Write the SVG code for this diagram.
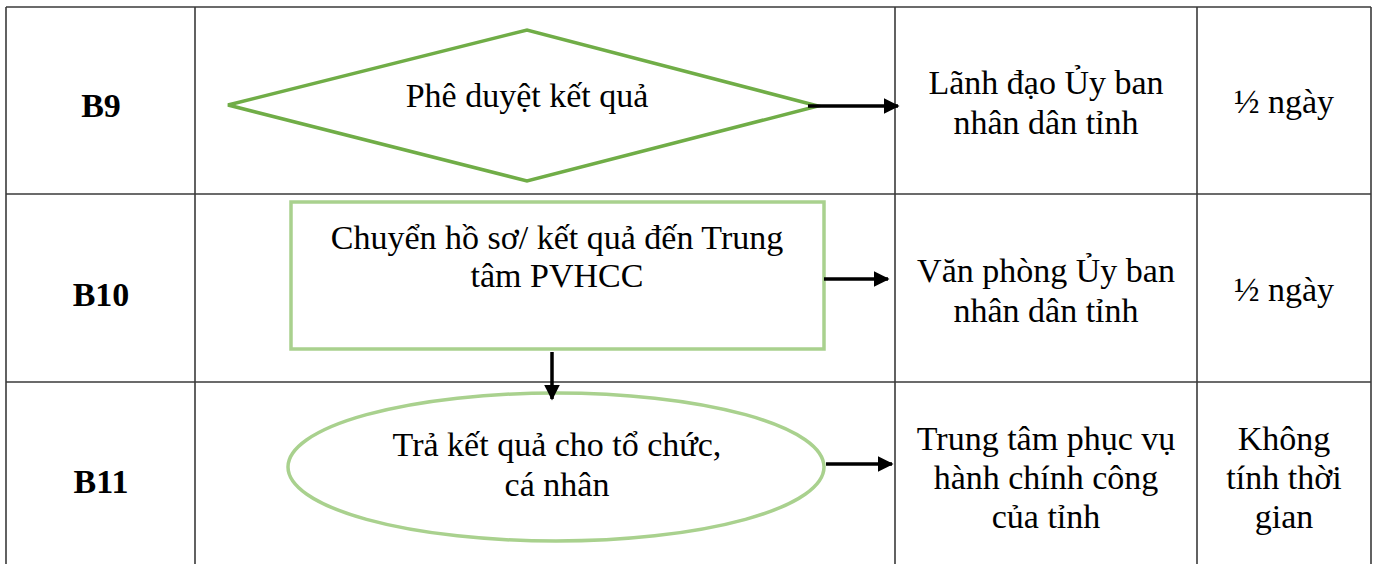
<svg xmlns="http://www.w3.org/2000/svg" width="1377" height="564" viewBox="0 0 1377 564">
  <style>
    .grid { stroke: #3a3a3a; stroke-width: 1.6; fill: none; }
    .t { font-family: "Liberation Serif", "Times New Roman", serif; font-size: 34px; fill: #000; text-anchor: middle; }
    .b { font-weight: bold; }
    .diamond { fill: #fff; stroke: #70AD47; stroke-width: 3.5; }
    .soft { fill: #fff; stroke: #A9D18E; stroke-width: 3.5; }
    .arrow { stroke: #000; stroke-width: 3.5; fill: none; marker-end: url(#head); }
  </style>
  <defs>
    <marker id="head" viewBox="0 0 10 10" refX="9" refY="5" markerWidth="4.5" markerHeight="4.5" markerUnits="strokeWidth" orient="auto">
      <path d="M0,0 L10,5 L0,10 Z" fill="#000"/>
    </marker>
  </defs>
  <rect width="1377" height="564" fill="#fff"/>

  <!-- table grid -->
  <g id="table">
    <line class="grid" x1="6" y1="7" x2="1371" y2="7"/>
    <line class="grid" x1="6" y1="194" x2="1371" y2="194"/>
    <line class="grid" x1="6" y1="382" x2="1371" y2="382"/>
    <line class="grid" x1="6" y1="7" x2="6" y2="564"/>
    <line class="grid" x1="195" y1="7" x2="195" y2="564"/>
    <line class="grid" x1="895" y1="7" x2="895" y2="564"/>
    <line class="grid" x1="1197" y1="7" x2="1197" y2="564"/>
    <line class="grid" x1="1371" y1="7" x2="1371" y2="564"/>
  </g>

  <!-- step labels -->
  <g id="steps">
    <text class="t b" x="101" y="117">B9</text>
    <text class="t b" x="101" y="306">B10</text>
    <text class="t b" x="101" y="493">B11</text>
  </g>

  <!-- B9 decision -->
  <g id="b9-node">
    <polygon class="diamond" points="228,105 527,30 818,106 527,181"/>
    <text class="t" x="527" y="107">Phê duyệt kết quả</text>
  </g>

  <!-- B10 process -->
  <g id="b10-node">
    <rect class="soft" x="291" y="202" width="533" height="147"/>
    <text class="t" x="557" y="249">Chuyển hồ sơ/ kết quả đến Trung</text>
    <text class="t" x="557" y="287">tâm PVHCC</text>
  </g>

  <!-- B11 terminal -->
  <g id="b11-node">
    <ellipse class="soft" cx="556" cy="467" rx="268" ry="74"/>
    <text class="t" x="557" y="456">Trả kết quả cho tổ chức,</text>
    <text class="t" x="557" y="496">cá nhân</text>
  </g>

  <!-- responsible units -->
  <g id="units">
    <text class="t" x="1046" y="94">Lãnh đạo Ủy ban</text>
    <text class="t" x="1046" y="134">nhân dân tỉnh</text>
    <text class="t" x="1046" y="282">Văn phòng Ủy ban</text>
    <text class="t" x="1046" y="322">nhân dân tỉnh</text>
    <text class="t" x="1046" y="450">Trung tâm phục vụ</text>
    <text class="t" x="1046" y="489">hành chính công</text>
    <text class="t" x="1046" y="528">của tỉnh</text>
  </g>

  <!-- durations -->
  <g id="durations">
    <text class="t" x="1284" y="113">½ ngày</text>
    <text class="t" x="1284" y="301">½ ngày</text>
    <text class="t" x="1284" y="450">Không</text>
    <text class="t" x="1284" y="489">tính thời</text>
    <text class="t" x="1284" y="528">gian</text>
  </g>

  <!-- connectors -->
  <g id="connectors">
    <line class="arrow" x1="808" y1="106" x2="898" y2="106"/>
    <line class="arrow" x1="824" y1="279" x2="888" y2="279"/>
    <line class="arrow" x1="552" y1="352" x2="552" y2="399"/>
    <line class="arrow" x1="826" y1="464" x2="892" y2="464"/>
  </g>
</svg>
